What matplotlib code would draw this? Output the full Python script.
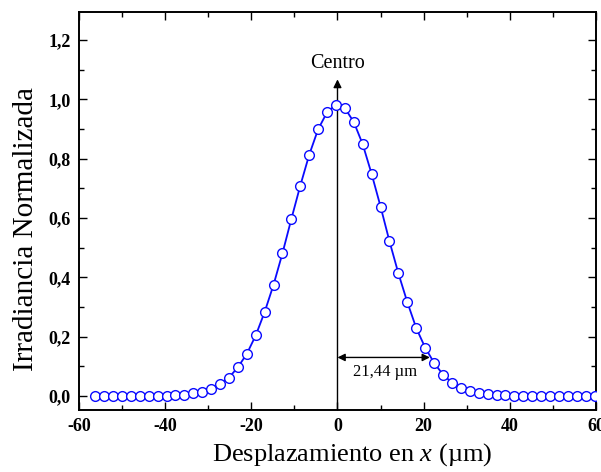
import matplotlib
matplotlib.use('Agg')
import matplotlib.pyplot as plt
from matplotlib.ticker import MultipleLocator, FuncFormatter

# measured irradiance profile (x in um)
x_um = [-56.24, -54.17, -52.10, -50.03, -47.96, -45.89, -43.82, -41.75, -39.68,
        -37.61, -35.54, -33.47, -31.40, -29.33, -27.26, -25.19, -23.12, -21.05,
        -18.98, -16.91, -14.84, -12.77, -10.70, -8.63, -6.56, -4.49, -2.42, -0.35,
        1.72, 3.79, 5.86, 7.93, 10.00, 12.07, 14.14, 16.21, 18.28, 20.35, 22.42,
        24.49, 26.56, 28.63, 30.70, 32.77, 34.84, 36.91, 38.98, 41.05, 43.12,
        45.19, 47.26, 49.33, 51.40, 53.47, 55.54, 57.61, 59.68]
irr = [0.0, 0.0, 0.0, 0.0, 0.0, 0.0, 0.0, 0.0, 0.001,
       0.002, 0.005, 0.009, 0.014, 0.024, 0.039, 0.062, 0.097, 0.142,
       0.204, 0.283, 0.375, 0.481, 0.597, 0.709, 0.813, 0.899, 0.956, 0.982,
       0.970, 0.923, 0.848, 0.748, 0.638, 0.521, 0.413, 0.316, 0.229, 0.163, 0.112,
       0.072, 0.045, 0.026, 0.016, 0.010, 0.007, 0.004, 0.002, 0.001, 0.0,
       0.0, 0.0, 0.0, 0.0, 0.0, 0.0, 0.0, 0.0]

half_width = 21.44
arrow_y = 0.13
centro_top = 1.067

plt.rcParams['font.family'] = 'Liberation Serif'
plt.rcParams['mathtext.fontset'] = 'custom'
plt.rcParams['mathtext.rm'] = 'Liberation Serif'
plt.rcParams['mathtext.it'] = 'Liberation Serif:italic'

fig = plt.figure(figsize=(6.01, 4.72), dpi=100)
ax = fig.add_axes([0.1314, 0.1314, 0.8603, 0.8432])

ax.plot(x_um, irr, '-o', color='#0a0aff', lw=1.3, ms=7.0,
        mfc='white', mec='#0a0aff', mew=1.0, zorder=3)

ax.set_xlim(-60, 60)
ax.set_ylim(-0.047, 1.294)

# centre marker and half width arrow
ax.annotate('', xy=(0, centro_top), xytext=(0, -0.047),
            arrowprops=dict(arrowstyle='-|>', color='black', lw=1.0,
                            mutation_scale=12, shrinkA=0, shrinkB=0), zorder=2)
ax.text(0, 1.121, 'Centro', ha='center', va='center', fontsize=14.5)
ax.annotate('', xy=(half_width, arrow_y), xytext=(0, arrow_y),
            arrowprops=dict(arrowstyle='<|-|>', color='black', lw=1.0,
                            mutation_scale=11, shrinkA=0, shrinkB=0), zorder=2)
ax.text(11, 0.082, '21,44 \u00b5m', ha='center', va='center', fontsize=12)

ax.xaxis.set_major_locator(MultipleLocator(20))
ax.xaxis.set_minor_locator(MultipleLocator(10))
ax.yaxis.set_major_locator(MultipleLocator(0.2))
ax.yaxis.set_minor_locator(MultipleLocator(0.1))
ax.yaxis.set_major_formatter(FuncFormatter(lambda v, p: f'{v:.1f}'.replace('.', ',')))
ax.xaxis.set_major_formatter(FuncFormatter(lambda v, p: f'{v:.0f}'))

ax.tick_params(which='both', direction='in', top=True, right=True, width=1.0)
ax.tick_params(which='major', length=6, labelsize=13, pad=6)
ax.tick_params(which='minor', length=3.5)
for lab in ax.get_xticklabels() + ax.get_yticklabels():
    lab.set_fontweight('bold')
for s in ax.spines.values():
    s.set_linewidth(1.4)

ax.set_xlabel('Desplazamiento en $x$ (\u00b5m)', fontsize=19)
ax.set_ylabel('Irradiancia Normalizada', fontsize=21)
ax.xaxis.set_label_coords(0.528, -0.078)
ax.yaxis.set_label_coords(-0.078, 0.4535)

fig.savefig('out.png', dpi=100)
